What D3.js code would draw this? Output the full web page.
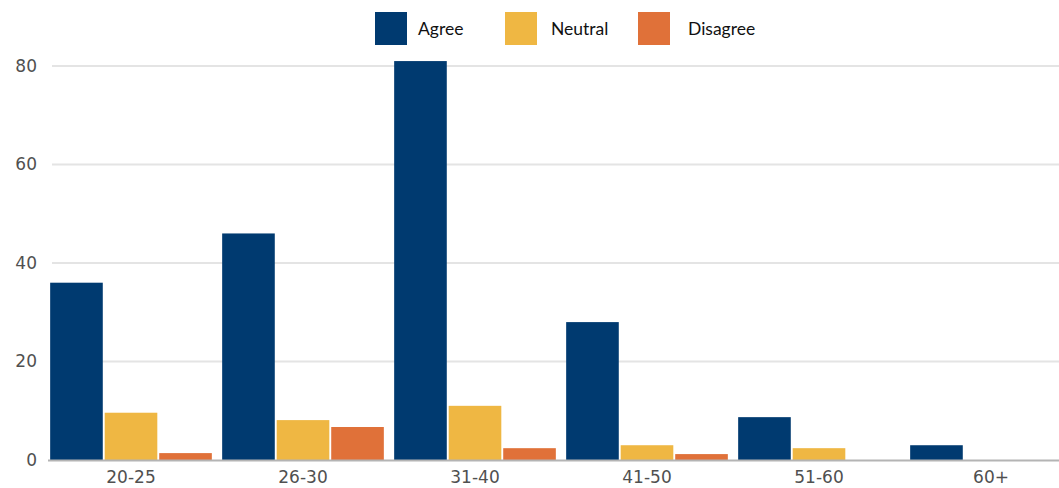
<!DOCTYPE html>
<html>
<head>
<meta charset="utf-8">
<script src="https://cdn.jsdelivr.net/npm/d3@7"></script>
<style>
  html, body { margin: 0; padding: 0; background: #fff; }
  svg { display: block; }
</style>
</head>
<body>
<svg id="chart" width="1059" height="488"></svg>
<script>
// Responses by age group
const ageGroups = ["20-25", "26-30", "31-40", "41-50", "51-60", "60+"];
const seriesNames = ["Agree", "Neutral", "Disagree"];
const agree    = [36, 46, 81, 28, 8.7, 3];
const neutral  = [9.6, 8.1, 11, 3, 2.4, 0];
const disagree = [1.4, 6.7, 2.4, 1.2, 0, 0];
const yTicks = [0, 20, 40, 60, 80];
const colors = ["#003a70", "#efb743", "#e07139"];

const seriesValues = [agree, neutral, disagree];
const rows = ageGroups.map((g, i) => ({
  group: g,
  values: seriesNames.map((s, j) => ({ key: s, value: seriesValues[j][i] }))
}));

const svg = d3.select("#chart");
const W = 1059, H = 488;
const axisFont = "'DejaVu Sans', sans-serif";

const x0 = d3.scaleBand()
  .domain(ageGroups)
  .range([45, 1077])
  .paddingInner(0.06)
  .paddingOuter(0.03);

const x1 = d3.scaleBand()
  .domain(seriesNames)
  .range([0, x0.bandwidth()])
  .paddingInner(0.035);

const y = d3.scaleLinear().domain([0, 80]).range([460, 66]);

const color = d3.scaleOrdinal().domain(seriesNames).range(colors);

// horizontal grid
svg.append("g")
  .selectAll("line")
  .data(yTicks.filter(t => t > 0))
  .join("line")
  .attr("x1", 52).attr("x2", W)
  .attr("y1", d => y(d)).attr("y2", d => y(d))
  .attr("stroke", "#e4e4e4")
  .attr("stroke-width", 2);

// y axis labels
const yAxis = d3.axisLeft(y).tickValues(yTicks).tickSize(0).tickPadding(0);
const yg = svg.append("g").attr("transform", "translate(37,0)").call(yAxis);
yg.select(".domain").remove();
yg.selectAll("text")
  .attr("fill", "#505050")
  .style("font-family", axisFont)
  .style("font-size", "17px");

// bars
const groups = svg.append("g")
  .selectAll("g")
  .data(rows)
  .join("g")
  .attr("transform", d => `translate(${x0(d.group)},0)`);

groups.selectAll("rect")
  .data(d => d.values)
  .join("rect")
  .attr("x", d => x1(d.key))
  .attr("width", x1.bandwidth())
  .attr("y", d => y(d.value))
  .attr("height", d => y(0) - y(d.value))
  .attr("fill", d => color(d.key));

// baseline and category labels
const xAxis = d3.axisBottom(x0).tickSize(0).tickPadding(11);
const xg = svg.append("g").attr("transform", `translate(0,${y(0)})`).call(xAxis);
xg.select(".domain").remove();
svg.append("line")
  .attr("x1", 48).attr("x2", W)
  .attr("y1", y(0) + 0.5).attr("y2", y(0) + 0.5)
  .attr("stroke", "#b4b4b4")
  .attr("stroke-width", 2);
xg.selectAll("text")
  .attr("fill", "#505050")
  .style("font-family", axisFont)
  .style("font-size", "17px");

// legend
const legendX = [375, 505, 638];
const legend = svg.append("g")
  .selectAll("g")
  .data(seriesNames)
  .join("g")
  .attr("transform", (d, i) => `translate(${legendX[i]},12)`);
legend.append("rect")
  .attr("width", 32).attr("height", 33)
  .attr("fill", d => color(d));
legend.append("text")
  .attr("x", d => d === "Disagree" ? 50 : (d === "Neutral" ? 46 : 43))
  .attr("y", 17)
  .attr("dy", "0.35em")
  .attr("fill", "#111")
  .style("font-family", "Lato, sans-serif")
  .style("font-size", "17.5px")
  .text(d => d);
</script>
</body>
</html>
